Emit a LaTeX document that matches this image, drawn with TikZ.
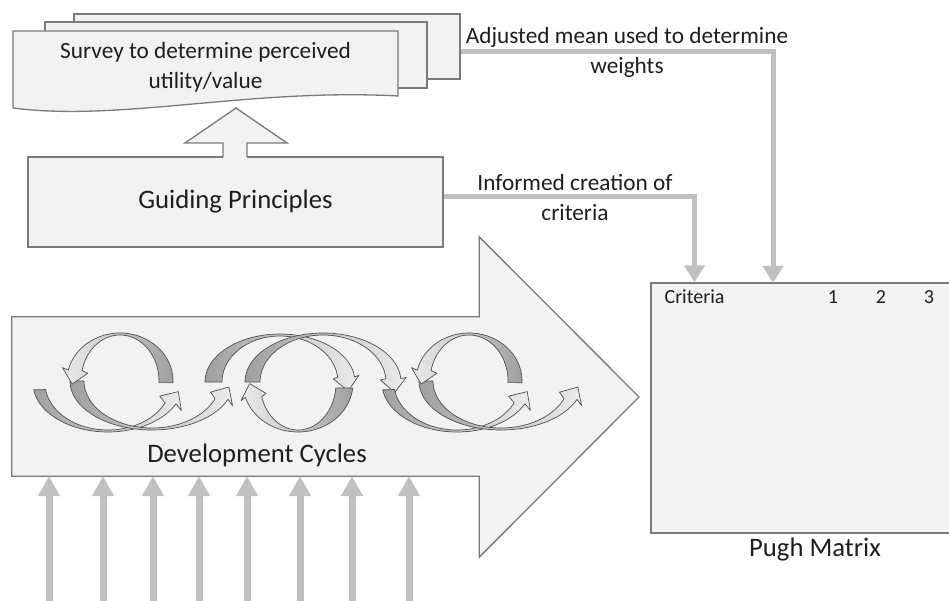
\documentclass[tikz,border=0pt]{standalone}
\usepackage{fontspec}
\setmainfont{Carlito}
\usetikzlibrary{arrows.meta,calc}

\definecolor{paper}{HTML}{F2F2F2}
\definecolor{edge}{HTML}{7A7A7A}
\definecolor{linkgray}{HTML}{C0C0C0}
\definecolor{ink}{HTML}{1E1E1E}
\definecolor{loopdark}{HTML}{A0A0A0}
\definecolor{looplight}{HTML}{ECECEC}
\definecolor{loopedge}{HTML}{505050}

% Curved band arrow on an ellipse: #1,#2 centre, #3 outer x radius, #4 inner x radius,
% #5 y radius, #6 tail angle, #7 head angle, #8 fill options
\newcommand{\cyclearrow}[8]{%
  \pgfmathsetmacro{\cyce}{cos(#7)}%
  \pgfmathsetmacro{\cyse}{sin(#7)}%
  \pgfmathsetmacro{\cyryi}{#5-2}%
  \pgfmathsetmacro{\cyrmid}{(#3+#4)/2}%
  \pgfmathsetmacro{\cysg}{(#7>#6)?1:-1}%
  \pgfmathsetmacro{\cydx}{\cysg*(-\cyrmid*\cyse)}%
  \pgfmathsetmacro{\cydy}{\cysg*(#5*\cyce)}%
  \pgfmathsetmacro{\cydl}{sqrt(\cydx*\cydx+\cydy*\cydy)}%
  \pgfmathsetmacro{\cyux}{\cydx/\cydl}%
  \pgfmathsetmacro{\cyuy}{\cydy/\cydl}%
  \pgfmathsetmacro{\cynsg}{((\cyuy*\cyce-\cyux*\cyse)>0)?1:-1}%
  \pgfmathsetmacro{\cynx}{\cynsg*\cyuy}%
  \pgfmathsetmacro{\cyny}{-\cynsg*\cyux}%
  \pgfmathsetmacro{\cymx}{#1+\cyrmid*\cyce}%
  \pgfmathsetmacro{\cymy}{#2+(#5-1)*\cyse}%
  \path[#8, draw=loopedge, line width=0.7pt, line join=round]
    plot[domain=#6:#7, samples=48] ({#1+#3*cos(\x)}, {#2+#5*sin(\x)})
    -- ({\cymx+13*\cynx}, {\cymy+13*\cyny})
    -- ({\cymx+14*\cyux}, {\cymy+14*\cyuy})
    -- ({\cymx-13*\cynx}, {\cymy-13*\cyny})
    -- plot[domain=#7:#6, samples=48] ({#1+#4*cos(\x)}, {#2+\cyryi*sin(\x)})
    -- cycle;
}

\tikzset{
  bigtext/.style={font=\fontsize{26.7}{32}\selectfont, text=ink},
  midtext/.style={font=\fontsize{23.3}{30}\selectfont, text=ink, align=center},
  smalltext/.style={font=\fontsize{20}{24}\selectfont, text=ink, inner sep=0pt},
  sheet/.style={draw=edge, fill=paper, line width=1.3pt, inner sep=0pt},
  link/.style={draw=linkgray, line width=5pt, -{Triangle[length=17pt,width=20pt]}},
  feed/.style={draw=linkgray, line width=7pt, -{Triangle[length=20pt,width=21pt]}},
  fwd/.style={left color=loopdark, right color=looplight},
  bwd/.style={left color=looplight, right color=loopdark},
}

\begin{document}
\begin{tikzpicture}[x=1pt, y=-1pt]
\useasboundingbox (0,0) rectangle (949,601);
\clip (0,0) rectangle (949,601);

% survey document stack
\node[sheet, minimum width=386pt, minimum height=65pt] (back) at (267,46.5) {};
\node[sheet, minimum width=382pt, minimum height=66pt] (middle) at (236,55) {};
\path[sheet] (13,31) -- (398,31) -- (398,96)
  .. controls (250,88) and (120,122) .. (13,108) -- cycle;
\node[midtext] (survey) at (205.5,67) {Survey to determine perceived\\utility/value};

% guiding principles with its upward block arrow
\node[sheet, minimum width=415pt, minimum height=90pt, bigtext] (guide) at (235.5,202) {Guiding Principles};
\fill[paper] (223,159) -- (223,143) -- (185,143) -- (236,108) -- (287,143) -- (247,143) -- (247,159) -- cycle;
\draw[edge, line width=1.3pt, line join=miter]
  (223,157) -- (223,143) -- (185,143) -- (236,108) -- (287,143) -- (247,143) -- (247,157);

% development block arrow
\node[minimum width=467pt, minimum height=159pt, inner sep=0pt] (body) at (245.5,396.5) {};
\draw[sheet] (body.north west) -- (body.north east) -- ++(0,-80) -- (639,397)
  -- ($(body.south east)+(0,81)$) -- (body.south east) -- (body.south west) -- cycle;

% first coil
\cyclearrow{108}{383}{75}{63}{49}{172}{25}{fwd}
\cyclearrow{152}{381}{82}{68}{49}{180}{22}{fwd}
\cyclearrow{120}{381}{53}{39}{48}{2}{-167}{bwd}
% middle coil
\cyclearrow{280}{382}{75}{58}{48}{180}{354}{fwd}
\cyclearrow{298}{383}{55}{38}{49}{6}{163}{bwd}
\cyclearrow{323}{382}{78}{63}{49}{180}{356}{fwd}
% last coil
\cyclearrow{457}{383}{75}{63}{49}{172}{25}{fwd}
\cyclearrow{501}{381}{82}{68}{49}{180}{22}{fwd}
\cyclearrow{469}{381}{53}{39}{48}{2}{-167}{bwd}

\node[bigtext] (devlabel) at (257,455) {Development Cycles};

% inputs feeding the development cycles
\foreach \fx [count=\i] in {49,103,153,199,247,300,352,409} {
  \coordinate (feed\i) at (\fx,606);
  \draw[feed] (feed\i) -- (feed\i |- body.south);
}

% Pugh matrix
\node[sheet, minimum width=304pt, minimum height=250pt] (pugh) at (803,408) {};
\node[smalltext] (crit) at (694.5,297) {Criteria};
\node[smalltext] (c1) at (833,297) {1};
\node[smalltext] (c2) at (881,297) {2};
\node[smalltext] (c3) at (929,297) {3};
\node[bigtext] (pughlabel) at (815,550) {Pugh Matrix};

% flows into the matrix
\coordinate (wpin) at (773,283);
\draw[link] ($(back.east)+(0,5.5)$) -| (wpin);
\draw[link] ($(guide.east)+(0,-5)$) -| (crit |- pugh.north);
\node[midtext] (wlabel) at (627,52) {Adjusted mean used to determine\\weights};
\node[midtext] (clabel) at (575,197) {Informed creation of\\criteria};
\end{tikzpicture}
\end{document}
